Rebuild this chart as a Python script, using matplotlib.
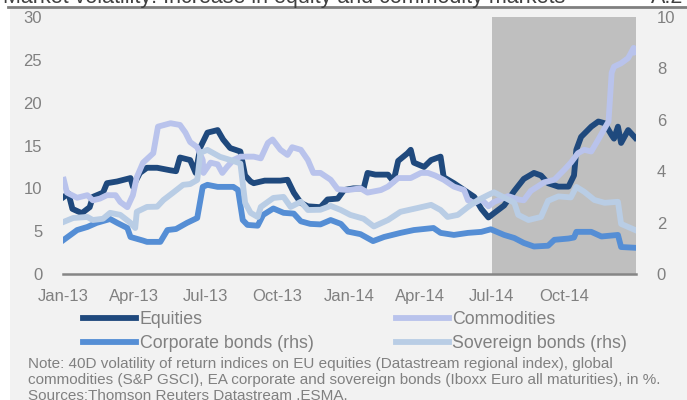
import matplotlib
matplotlib.use("Agg")
import matplotlib.pyplot as plt
import matplotlib.dates as mdates
import pandas as pd
from matplotlib.lines import Line2D
from matplotlib.patches import Rectangle

plt.rcParams["font.family"] = ["Liberation Sans", "DejaVu Sans"]

# --- data ---
eq_dates = ["2013-01-02", "2013-01-08", "2013-01-13", "2013-01-25", "2013-02-04", "2013-02-08",
            "2013-02-21", "2013-02-26", "2013-03-11", "2013-03-28", "2013-03-31", "2013-04-09",
            "2013-04-18", "2013-05-01", "2013-05-18", "2013-05-25", "2013-05-30", "2013-06-12",
            "2013-06-19", "2013-06-25", "2013-07-04", "2013-07-17", "2013-07-24", "2013-08-02",
            "2013-08-15", "2013-08-21", "2013-08-28", "2013-09-01", "2013-09-15", "2013-10-05",
            "2013-10-14", "2013-10-22", "2013-10-31", "2013-11-09", "2013-11-25", "2013-12-04",
            "2013-12-17", "2013-12-25", "2014-01-06", "2014-01-19", "2014-01-24", "2014-02-03",
            "2014-02-19", "2014-02-26", "2014-03-04", "2014-03-16", "2014-03-20", "2014-03-24",
            "2014-04-06", "2014-04-15", "2014-04-27", "2014-05-01", "2014-05-14", "2014-05-27",
            "2014-06-09", "2014-06-18", "2014-06-27", "2014-07-04", "2014-07-17", "2014-07-30",
            "2014-08-11", "2014-08-24", "2014-09-02", "2014-09-11", "2014-09-24", "2014-10-07",
            "2014-10-14", "2014-10-17", "2014-10-23", "2014-11-05", "2014-11-14", "2014-11-22",
            "2014-12-01", "2014-12-04", "2014-12-09", "2014-12-13", "2014-12-22", "2014-12-31"]
equities = [9.0, 9.4, 7.6, 7.1, 7.8, 9.0,
            9.5, 10.6, 10.8, 11.2, 10.2, 11.8,
            12.4, 12.4, 12.1, 12.0, 13.6, 13.3,
            11.8, 14.8, 16.5, 16.8, 15.7, 14.7,
            14.3, 11.5, 10.8, 10.6, 10.9, 10.9,
            11.0, 9.5, 8.3, 7.9, 7.8, 8.7,
            8.8, 9.8, 10.0, 10.0, 11.8, 11.6,
            11.6, 10.8, 13.2, 14.1, 14.5, 13.0,
            12.5, 13.3, 13.7, 11.3, 10.6, 9.8,
            9.0, 7.6, 6.6, 7.1, 8.0, 9.7,
            11.1, 11.8, 11.5, 10.6, 10.2, 10.2,
            11.5, 14.5, 16.0, 17.2, 17.8, 17.6,
            16.2, 15.8, 17.2, 15.3, 16.8, 15.9]

com_dates = ["2013-01-02", "2013-01-06", "2013-01-19", "2013-02-01", "2013-02-08", "2013-02-17",
             "2013-02-26", "2013-03-09", "2013-03-15", "2013-03-24", "2013-03-31", "2013-04-05",
             "2013-04-13", "2013-04-26", "2013-05-02", "2013-05-18", "2013-05-30", "2013-06-06",
             "2013-06-12", "2013-06-21", "2013-06-28", "2013-06-29", "2013-07-08", "2013-07-17",
             "2013-07-23", "2013-07-29", "2013-08-06", "2013-08-15", "2013-09-01", "2013-09-10",
             "2013-09-19", "2013-09-25", "2013-10-05", "2013-10-14", "2013-10-20", "2013-10-31",
             "2013-11-09", "2013-11-16", "2013-11-25", "2013-12-08", "2013-12-17", "2013-12-30",
             "2014-01-15", "2014-01-24", "2014-02-10", "2014-02-19", "2014-03-04", "2014-03-20",
             "2014-04-02", "2014-04-11", "2014-04-20", "2014-05-01", "2014-05-14", "2014-05-27",
             "2014-06-01", "2014-06-09", "2014-06-18", "2014-06-27", "2014-07-04", "2014-07-22",
             "2014-08-04", "2014-08-11", "2014-08-20", "2014-09-06", "2014-09-19", "2014-10-02",
             "2014-10-10", "2014-10-19", "2014-10-27", "2014-11-05", "2014-11-14", "2014-11-22",
             "2014-11-27", "2014-12-01", "2014-12-04", "2014-12-13", "2014-12-22", "2014-12-29",
             "2014-12-31"]
commodities = [11.0, 9.5, 8.9, 9.2, 8.6, 8.8,
               9.2, 9.2, 8.4, 7.8, 9.2, 11.3,
               13.0, 14.1, 17.2, 17.6, 17.4, 16.5,
               15.4, 14.8, 13.3, 11.8, 13.0, 12.8,
               11.8, 12.5, 13.3, 13.7, 13.7, 13.5,
               15.3, 15.7, 14.5, 13.9, 14.8, 14.5,
               13.3, 11.8, 11.8, 11.0, 9.9, 9.8,
               10.0, 9.5, 9.8, 10.2, 11.2, 11.2,
               11.8, 11.8, 11.5, 11.0, 10.2, 9.8,
               8.6, 8.3, 8.7, 7.9, 8.4, 9.1,
               8.7, 8.6, 9.7, 10.7, 11.0, 12.2,
               13.0, 14.1, 14.5, 14.3, 15.7, 17.0,
               17.8, 23.5, 24.2, 24.6, 25.2, 26.4,
               25.9]

corp_dates = ["2013-01-02", "2013-01-19", "2013-02-01", "2013-02-13", "2013-03-02", "2013-03-11",
              "2013-03-24", "2013-03-28", "2013-04-13", "2013-04-18", "2013-05-05", "2013-05-14",
              "2013-05-25", "2013-06-08", "2013-06-21", "2013-06-28", "2013-07-04", "2013-07-17",
              "2013-08-06", "2013-08-12", "2013-08-18", "2013-08-24", "2013-09-06", "2013-09-13",
              "2013-09-26", "2013-10-09", "2013-10-22", "2013-10-31", "2013-11-12", "2013-11-25",
              "2013-12-08", "2013-12-21", "2013-12-30", "2014-01-15", "2014-01-31", "2014-02-14",
              "2014-03-07", "2014-03-24", "2014-04-18", "2014-04-27", "2014-05-14", "2014-06-01",
              "2014-06-18", "2014-06-30", "2014-07-17", "2014-07-30", "2014-08-11", "2014-08-24",
              "2014-09-11", "2014-09-19", "2014-10-07", "2014-10-14", "2014-10-17", "2014-11-05",
              "2014-11-18", "2014-12-09", "2014-12-13", "2014-12-31"]
corporate = [1.33, 1.71, 1.83, 1.99, 2.14, 1.99,
             1.79, 1.44, 1.30, 1.25, 1.25, 1.71,
             1.75, 1.99, 2.18, 3.39, 3.47, 3.39,
             3.39, 3.27, 2.10, 1.91, 1.88, 2.30,
             2.55, 2.38, 2.35, 2.05, 1.95, 1.93,
             2.10, 1.95, 1.65, 1.55, 1.28, 1.44,
             1.60, 1.71, 1.79, 1.60, 1.52, 1.60,
             1.64, 1.74, 1.52, 1.40, 1.21, 1.07,
             1.10, 1.33, 1.38, 1.42, 1.64, 1.64,
             1.46, 1.52, 1.05, 1.02]

sov_dates = ["2013-01-02", "2013-01-14", "2013-02-01", "2013-02-08", "2013-02-21", "2013-03-02",
             "2013-03-15", "2013-03-28", "2013-04-03", "2013-04-05", "2013-04-18", "2013-05-01",
             "2013-05-09", "2013-05-21", "2013-06-03", "2013-06-12", "2013-06-21", "2013-06-25",
             "2013-07-04", "2013-07-20", "2013-08-06", "2013-08-15", "2013-08-21", "2013-08-28",
             "2013-09-06", "2013-09-10", "2013-09-26", "2013-10-09", "2013-10-18", "2013-10-31",
             "2013-11-09", "2013-11-25", "2013-12-08", "2013-12-21", "2014-01-02", "2014-01-19",
             "2014-02-01", "2014-02-19", "2014-03-07", "2014-03-29", "2014-04-15", "2014-04-27",
             "2014-05-06", "2014-05-19", "2014-06-01", "2014-06-14", "2014-06-27", "2014-07-04",
             "2014-07-22", "2014-07-30", "2014-08-04", "2014-08-17", "2014-09-02", "2014-09-11",
             "2014-09-24", "2014-10-10", "2014-10-17", "2014-10-27", "2014-11-09", "2014-11-22",
             "2014-12-09", "2014-12-13", "2014-12-31"]
sovereign = [2.03, 2.18, 2.22, 2.10, 2.15, 2.38,
             2.30, 1.99, 1.79, 2.42, 2.61, 2.62,
             2.88, 3.16, 3.47, 3.50, 3.66, 4.72,
             4.83, 4.56, 4.40, 4.30, 2.77, 2.38,
             2.22, 2.61, 2.96, 3.00, 2.61, 2.81,
             2.49, 2.50, 2.65, 2.49, 2.30, 2.15,
             1.85, 2.10, 2.42, 2.57, 2.69, 2.49,
             2.22, 2.30, 2.61, 2.88, 3.08, 3.18,
             2.90, 2.77, 2.30, 2.10, 2.22, 2.85,
             3.02, 2.98, 3.39, 3.20, 2.88, 2.77,
             2.81, 1.95, 1.71]

x_ticks = ["2013-01-01", "2013-04-01", "2013-07-01", "2013-10-01",
           "2014-01-01", "2014-04-01", "2014-07-01", "2014-10-01"]
shade_start, shade_end = "2014-07-01", "2015-01-01"
x_start, x_end = "2013-01-01", "2015-01-01"

c_eq = "#1F497D"
c_com = "#B9C3EC"
c_corp = "#558ED5"
c_sov = "#B9CDE5"
grey_txt = "#808080"

fig = plt.figure(figsize=(6.87, 4.0), dpi=100)
fig.patch.set_facecolor("white")
fig.patches.append(Rectangle((10 / 687, 0), 1, 391 / 400, transform=fig.transFigure,
                             facecolor="#F2F2F2", edgecolor="none", zorder=-10))
fig.add_artist(Line2D([8 / 687, 1], [393 / 400, 393 / 400], color="#7F7F7F", lw=2))
# title sits mostly above the crop, only its lower part shows
fig.text(3 / 687, 1 - 3 / 400, "Market volatility: Increase in equity and commodity markets",
         fontsize=15.5, color="#404040", va="baseline")
fig.text(683 / 687, 1 - 3 / 400, "A.2", fontsize=15.5, color="#404040", va="baseline", ha="right")

ax = fig.add_axes([63 / 687, 126 / 400, 573 / 687, 257 / 400])
ax.set_facecolor("none")
ax2 = ax.twinx()

lw = 4.2
ax.axvspan(pd.Timestamp(shade_start), pd.Timestamp(shade_end), color="#BFBFBF", lw=0, zorder=0)
ax.plot(pd.to_datetime(eq_dates), equities, color=c_eq, lw=lw, solid_joinstyle="round")
ax.plot(pd.to_datetime(com_dates), commodities, color=c_com, lw=lw, solid_joinstyle="round")
ax2.plot(pd.to_datetime(corp_dates), corporate, color=c_corp, lw=lw, solid_joinstyle="round")
ax2.plot(pd.to_datetime(sov_dates), sovereign, color=c_sov, lw=lw, solid_joinstyle="round")

ax.set_xlim(pd.Timestamp(x_start), pd.Timestamp(x_end))
ax.set_ylim(0, 30)
ax2.set_ylim(0, 10)
ax.set_yticks(range(0, 31, 5))
ax2.set_yticks(range(0, 11, 2))
ax.set_xticks(pd.to_datetime(x_ticks))
ax.xaxis.set_major_formatter(mdates.DateFormatter("%b-%y"))

for a in (ax, ax2):
    for s in a.spines.values():
        s.set_visible(False)
    a.tick_params(length=0, labelsize=12, labelcolor=grey_txt)
ax.tick_params(axis="y", pad=15)
ax2.tick_params(axis="y", pad=15)
ax.tick_params(axis="x", pad=11)
ax.spines["bottom"].set_visible(True)
ax.spines["bottom"].set_color("#868686")
ax.spines["bottom"].set_linewidth(1.8)

handles = [Line2D([], [], color=c_eq, lw=lw), Line2D([], [], color=c_corp, lw=lw),
           Line2D([], [], color=c_com, lw=lw), Line2D([], [], color=c_sov, lw=lw)]
labels = ["Equities", "Corporate bonds (rhs)", "Commodities", "Sovereign bonds (rhs)"]
fig.legend(handles, labels, ncol=2, loc="upper left", bbox_to_anchor=(83 / 687, 1 - 311 / 400),
           frameon=False, fontsize=12.8, labelcolor=grey_txt, handlelength=3.0,
           handletextpad=0.2, columnspacing=4.6, labelspacing=0.4, borderpad=0, borderaxespad=0)

notes = ("Note: 40D volatility of return indices on EU equities (Datastream regional index), global\n"
         "commodities (S&P GSCI), EA corporate and sovereign bonds (Iboxx Euro all maturities), in %.\n"
         "Sources:Thomson Reuters Datastream ,ESMA.")
fig.text(28 / 687, 1 - 357 / 400, notes, fontsize=11, color=grey_txt, va="top", linespacing=1.2)

fig.savefig("out.png", dpi=100)
